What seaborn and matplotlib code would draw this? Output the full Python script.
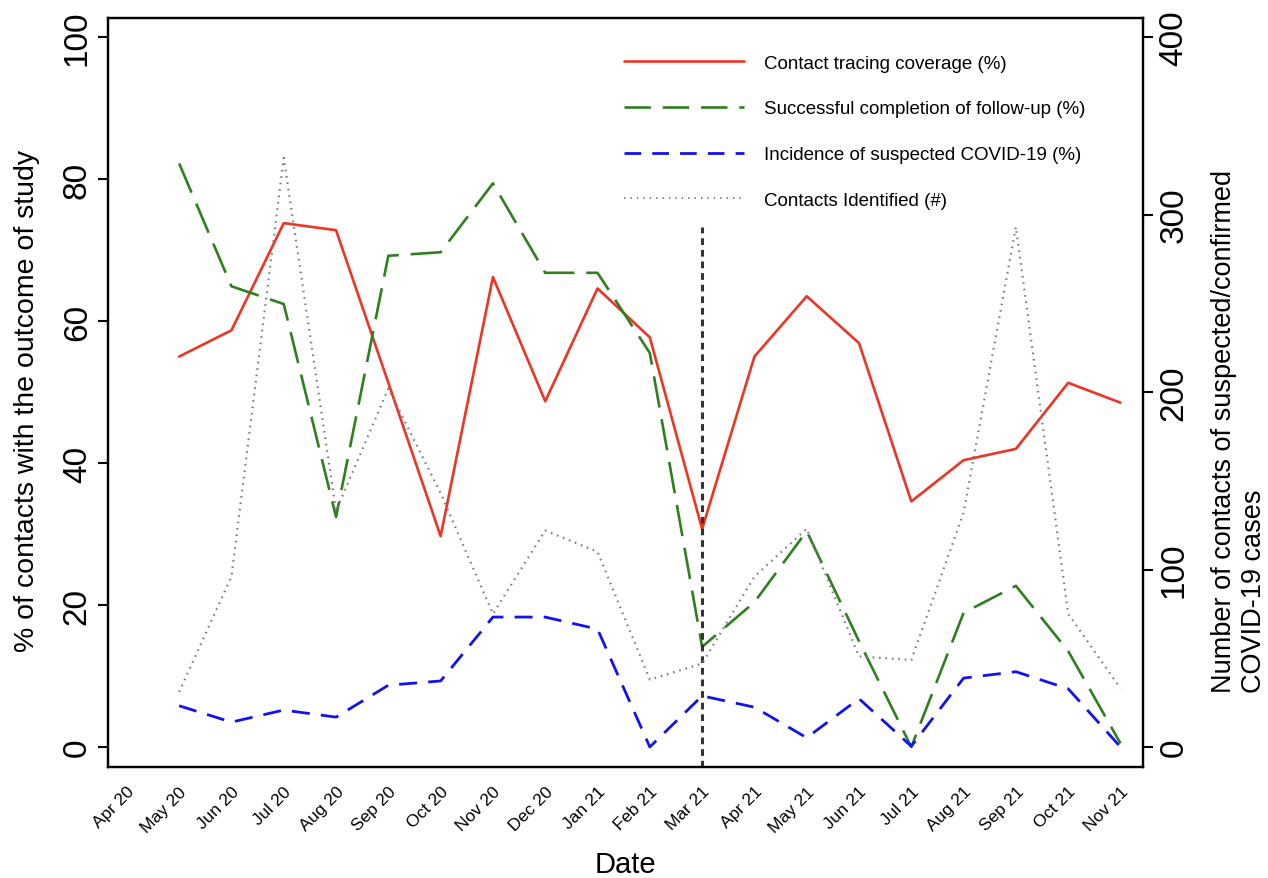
import pandas as pd
import matplotlib.pyplot as plt
import seaborn as sns
from matplotlib.lines import Line2D

months = ['Apr 20', 'May 20', 'Jun 20', 'Jul 20', 'Aug 20', 'Sep 20', 'Oct 20', 'Nov 20',
          'Dec 20', 'Jan 21', 'Feb 21', 'Mar 21', 'Apr 21', 'May 21', 'Jun 21', 'Jul 21',
          'Aug 21', 'Sep 21', 'Oct 21', 'Nov 21']
# data starts at May 20
data_months = months[1:]
coverage = [55, 58.7, 73.8, 72.8, 51.3, 29.7, 66.2, 48.7, 64.6, 57.7,
            30.7, 55, 63.5, 56.9, 34.6, 40.4, 42, 51.3, 48.5]
followup = [82.2, 64.9, 62.4, 32.4, 69.2, 69.7, 79.4, 66.8, 66.8, 55.5,
            14.1, 20.4, 30.4, 14.9, 0, 18.9, 22.7, 13.5, 0.5]
incidence = [5.8, 3.5, 5.2, 4.2, 8.7, 9.3, 18.3, 18.3, 16.6, 0,
             7.2, 5.6, 1.3, 6.8, 0.1, 9.7, 10.6, 8.2, 0]
contacts = [31, 96, 332, 133, 202, 143, 75, 122, 110, 38,
            47, 96, 123, 51, 49, 132, 293, 75, 33]

LABELS = ['Contact tracing coverage (%)', 'Successful completion of follow-up (%)',
          'Incidence of suspected COVID-19 (%)', 'Contacts Identified (#)']
COLORS = ['#EE3424', '#2F7F1F', '#1212F0', '#7a7a7a']

df = pd.DataFrame({
    'x': [months.index(m) for m in data_months],
    'coverage': coverage,
    'followup': followup,
    'incidence': incidence,
    'contacts': contacts,
})

sns.set_style('white')
plt.rcParams['font.family'] = ['Liberation Sans', 'DejaVu Sans']
plt.rcParams['text.color'] = 'black'
plt.rcParams['axes.labelcolor'] = 'black'

fig = plt.figure(figsize=(12.68, 8.79), dpi=100)
ax = fig.add_axes([0.0852, 0.1263, 0.8162, 0.8521])
ax2 = ax.twinx()

sns.lineplot(data=df, x='x', y='coverage', ax=ax, color=COLORS[0], lw=1.9)
sns.lineplot(data=df, x='x', y='followup', ax=ax, color=COLORS[1], lw=1.9)
sns.lineplot(data=df, x='x', y='incidence', ax=ax, color=COLORS[2], lw=2.0)
sns.lineplot(data=df, x='x', y='contacts', ax=ax2, color=COLORS[3], lw=1.6)
ax.lines[1].set_dashes((12, 4.5))
ax.lines[2].set_dashes((6.5, 4))
ax2.lines[0].set_dashes((0.7, 2.2))

# vertical marker at Mar 21
ax.plot([months.index('Mar 21')] * 2, [-2.82, 73.2], color='#333333', lw=2.2,
        dashes=(2.2, 1.6))

ax.set_xlim(-0.36, 19.43)
ax.set_ylim(-2.82, 102.7)
ax2.set_ylim(-11.28, 410.8)

ax.set_xticks(range(len(months)))
ax.set_xticklabels(months, rotation=45, ha='right', rotation_mode='anchor', fontsize=12.5)
ax.set_yticks([0, 20, 40, 60, 80, 100])
ax.set_yticklabels(['0', '20', '40', '60', '80', '100'], rotation=90, va='center', fontsize=24)
ax2.set_yticks([0, 100, 200, 300, 400])
ax2.set_yticklabels(['0', '100', '200', '300', '400'], rotation=90, va='center', fontsize=24)

for a in (ax, ax2):
    for s in a.spines.values():
        s.set_linewidth(1.6)
        s.set_color('black')
    a.tick_params(direction='out', length=7, width=1.5, colors='black')

ax.tick_params(axis='x', length=9, pad=3)
ax.tick_params(axis='y', pad=4)
ax2.tick_params(axis='y', pad=4)

ax.set_xlabel('Date', fontsize=21, labelpad=11, color='black')
ax.set_ylabel('% of contacts with the outcome of study', fontsize=20.5, labelpad=16,
              color='black')
ax.yaxis.label.set_y(0.49)
ax2.set_ylabel('Number of contacts of suspected/confirmed\nCOVID-19 cases', fontsize=19.5,
               labelpad=16, linespacing=1.2, multialignment='left', color='black')
ax2.yaxis.label.set_y(0.449)

handles = [
    Line2D([], [], color=COLORS[0], lw=1.9),
    Line2D([], [], color=COLORS[1], lw=1.9, dashes=(10, 4.5)),
    Line2D([], [], color=COLORS[2], lw=2.0, dashes=(6, 4)),
    Line2D([], [], color=COLORS[3], lw=1.4, dashes=(0.7, 2.6)),
]
leg = fig.legend(handles, LABELS, loc='upper left', bbox_to_anchor=(0.492, 0.937),
                 frameon=False, handlelength=6.4, handletextpad=1.07,
                 labelspacing=1.53, borderpad=0, borderaxespad=0,
                 prop={'family': ['Liberation Sans', 'DejaVu Sans'], 'size': 13.5})
for t in leg.get_texts():
    t.set_color('black')

fig.savefig('out.png', dpi=100)
